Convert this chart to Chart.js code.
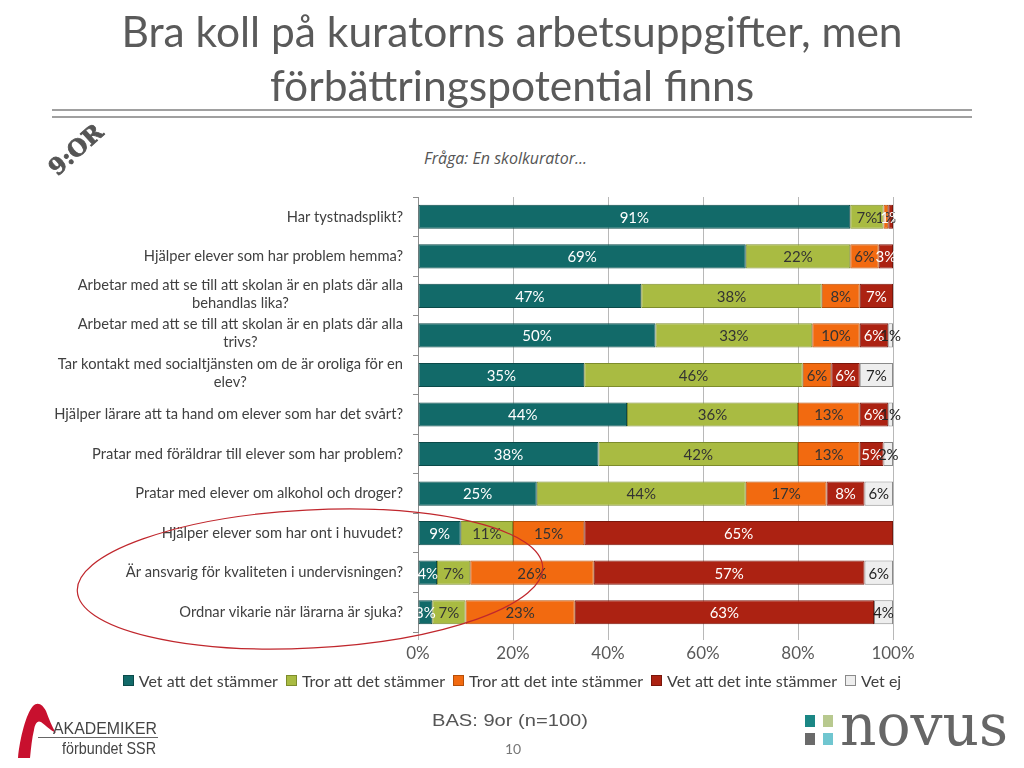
<!DOCTYPE html>
<html lang="sv">
<head>
<meta charset="utf-8">
<title>Bra koll på kuratorns arbetsuppgifter</title>
<script src="https://cdn.jsdelivr.net/npm/chart.js@4/dist/chart.umd.min.js"></script>
<style>
  html, body { margin: 0; padding: 0; background: #fff; }
  body { width: 1024px; height: 768px; position: relative; overflow: hidden; font-family: Lato, "Open Sans", sans-serif; }
  .rule { position: absolute; left: 52px; width: 920px; height: 2px; background: #a0a0a0; }
  .question { position: absolute; left: 424px; top: 147px; font-style: italic; font-size: 16px; color: #555; font-family: "Open Sans", sans-serif; }
  #wrap { position: absolute; left: 0; top: 185px; width: 1024px; height: 490px; }
  #legend { position: absolute; left: 0; width: 1024px; top: 671px; display: flex; justify-content: center; font-size: 16px; color: #404040; }
  #legend span.item { margin: 0 4px; display: inline-flex; align-items: center; white-space: nowrap; }
  #legend span.box { width: 9px; height: 9px; border: 1px solid #666; margin-right: 5px; display: inline-block; }
  svg { position: absolute; left: 0; top: 0; }
</style>
</head>
<body>
<div class="rule" style="top:109px"></div>
<div class="rule" style="top:116px"></div>
<div class="question">Fråga: En skolkurator...</div>
<div id="wrap"><canvas id="chart" width="1024" height="490"></canvas></div>
<div id="legend"></div>
<svg width="1024" height="768">
  <g font-family="Lato, 'Open Sans', sans-serif" fill="#5a5a5a" font-size="42.5" text-anchor="middle">
    <text x="512" y="47">Bra koll på kuratorns arbetsuppgifter, men</text>
    <text x="512" y="101">förbättringspotential finns</text>
  </g>
  <text x="0" y="0" transform="translate(77 151) rotate(-42)" text-anchor="middle" dominant-baseline="middle"
        font-family="'DejaVu Serif', serif" font-weight="bold" font-size="23" fill="#555" stroke="#555" stroke-width="0.8">9:OR</text>
  <ellipse cx="310" cy="579" rx="233" ry="69" fill="none" stroke="#c0272d" stroke-width="1.2" transform="rotate(-3 310 579)"/>
  <!-- akademiker SSR -->
  <path d="M18 758 C 20 738, 26 714, 33 706 C 38 701, 43 705, 46 711 C 49 719, 52 727, 56 733 C 50 730, 45 725, 41 722 C 37 720, 35 724, 34 730 C 32 738, 31 748, 30 758 Z" fill="#c8102e"/>
  <text x="53" y="734" font-family="'Liberation Sans Narrow', 'Liberation Sans', sans-serif" font-size="16.5" fill="#444" textLength="104" lengthAdjust="spacingAndGlyphs">AKADEMIKER</text>
  <line x1="38" y1="737.5" x2="158" y2="737.5" stroke="#666" stroke-width="1"/>
  <text x="62" y="754" font-family="'Liberation Sans Narrow', 'Liberation Sans', sans-serif" font-size="16.5" fill="#444" textLength="94" lengthAdjust="spacingAndGlyphs">förbundet SSR</text>
  <!-- bas / sida -->
  <text x="432" y="726" font-family="'Liberation Sans Narrow', 'Liberation Sans', sans-serif" font-size="17" fill="#555" textLength="156" lengthAdjust="spacingAndGlyphs">BAS: 9or (n=100)</text>
  <text x="513" y="754" text-anchor="middle" font-family="Lato, 'Open Sans', sans-serif" font-size="14" fill="#777">10</text>
  <!-- novus -->
  <rect x="805" y="715" width="10" height="12" fill="#1b8785"/>
  <rect x="823" y="715" width="10" height="12" fill="#b8c98f"/>
  <rect x="805" y="733" width="10" height="12" fill="#6a6a6a"/>
  <rect x="823" y="733" width="10" height="12" fill="#70c6d0"/>
  <text x="840" y="745" font-family="'DejaVu Serif', serif" font-size="57" fill="#666" textLength="168" lengthAdjust="spacingAndGlyphs">novus</text>
</svg>

<script>
// frågor (kategorier)
const questions = [
    ["Har tystnadsplikt?"],
    ["Hjälper elever som har problem hemma?"],
    ["Arbetar med att se till att skolan är en plats där alla", "behandlas lika?"],
    ["Arbetar med att se till att skolan är en plats där alla", "trivs?"],
    ["Tar kontakt med socialtjänsten om de är oroliga för en", "elev?"],
    ["Hjälper lärare att ta hand om elever som har det svårt?"],
    ["Pratar med föräldrar till elever som har problem?"],
    ["Pratar med elever om alkohol och droger?"],
    ["Hjälper elever som har ont i huvudet?"],
    ["Är ansvarig för kvaliteten i undervisningen?"],
    ["Ordnar vikarie när lärarna är sjuka?"]
];

const seriesNames = ["Vet att det stämmer", "Tror att det stämmer", "Tror att det inte stämmer", "Vet att det inte stämmer", "Vet ej"];

const vetStammer   = [91, 69, 47, 50, 35, 44, 38, 25, 9, 4, 3];
const trorStammer  = [7, 22, 38, 33, 46, 36, 42, 44, 11, 7, 7];
const trorInte     = [1, 6, 8, 10, 6, 13, 13, 17, 15, 26, 23];
const vetInte      = [1, 3, 7, 6, 6, 6, 5, 8, 65, 57, 63];
const vetEj        = [0, 0, 0, 1, 7, 1, 2, 6, 0, 6, 4];

const xTicks = [0, 20, 40, 60, 80, 100];

const fills   = ["#126a69", "#a9bb42", "#f26a10", "#ac2212", "#eeeeee"];
const borders = ["#0b4a49", "#7d8c2c", "#b54e08", "#7a160b", "#8a8a8a"];
const labelColors = ["#ffffff", "#333333", "#333333", "#ffffff", "#222222"];

const seriesData = [vetStammer, trorStammer, trorInte, vetInte, vetEj];

const datasets = seriesData.map((d, i) => ({
    label: seriesNames[i],
    data: d,
    backgroundColor: fills[i],
    borderColor: borders[i],
    borderWidth: 1,
    borderSkipped: false,
    barPercentage: 0.61,
    categoryPercentage: 1
}));

// legend in html
const legendEl = document.getElementById("legend");
seriesNames.forEach((name, i) => {
    const item = document.createElement("span");
    item.className = "item";
    item.innerHTML = '<span class="box" style="background:' + fills[i] + ';border-color:' + borders[i] + '"></span>' + name;
    legendEl.appendChild(item);
});

// procentetiketter i staplarna
const barLabels = {
    id: "barLabels",
    afterDatasetsDraw(chart) {
        const ctx = chart.ctx;
        ctx.save();
        ctx.font = "15px Lato, 'Open Sans', sans-serif";
        ctx.textAlign = "center";
        ctx.textBaseline = "middle";
        chart.data.datasets.forEach((ds, i) => {
            const meta = chart.getDatasetMeta(i);
            meta.data.forEach((bar, j) => {
                const v = ds.data[j];
                if (!v) return;
                ctx.fillStyle = labelColors[i];
                ctx.fillText(v + "%", (bar.x + bar.base) / 2, bar.y + 1);
            });
        });
        ctx.restore();
    }
};

// frågetexter till vänster, flerradiga centrerade som i original
const questionLabels = {
    id: "questionLabels",
    afterDraw(chart) {
        const ctx = chart.ctx;
        const yScale = chart.scales.y;
        const right = chart.chartArea.left - 15;
        ctx.save();
        ctx.font = "14.7px Lato, 'Open Sans', sans-serif";
        ctx.fillStyle = "#404040";
        ctx.textAlign = "center";
        ctx.textBaseline = "middle";
        questions.forEach((lines, i) => {
            const widest = Math.max(...lines.map(l => ctx.measureText(l).width));
            const cx = right - widest / 2;
            const y = yScale.getPixelForValue(i);
            const lh = 18;
            const start = y - (lines.length - 1) * lh / 2 - (lines.length > 1 ? 2 : 0);
            lines.forEach((l, k) => ctx.fillText(l, cx, start + k * lh));
        });
        ctx.restore();
    }
};

new Chart(document.getElementById("chart"), {
    type: "bar",
    data: {
        labels: questions.map(q => q.join(" ")),
        datasets: datasets
    },
    options: {
        indexAxis: "y",
        responsive: false,
        animation: false,
        layout: { padding: { top: 12, left: 135, right: 131, bottom: 0 } },
        plugins: {
            legend: { display: false },
            tooltip: { enabled: false }
        },
        scales: {
            x: {
                stacked: true,
                min: 0,
                max: 100,
                afterBuildTicks: (scale) => { scale.ticks = xTicks.map(v => ({ value: v })); },
                afterFit: (scale) => { scale.height = 43; },
                grid: { color: "#b8b8b8", tickLength: 8, lineWidth: 1 },
                border: { display: false },
                ticks: {
                    callback: (v) => v + "%",
                    color: "#595959",
                    font: { size: 17, family: "Lato, 'Open Sans', sans-serif" },
                    padding: 3
                }
            },
            y: {
                stacked: true,
                afterFit: (scale) => { scale.width = 283; },
                grid: { display: true, drawOnChartArea: false, offset: true, tickLength: 5, color: "#8c8c8c" },
                border: { display: true, color: "#8c8c8c" },
                ticks: { display: false }
            }
        }
    },
    plugins: [barLabels, questionLabels]
});
</script>
</body>
</html>
